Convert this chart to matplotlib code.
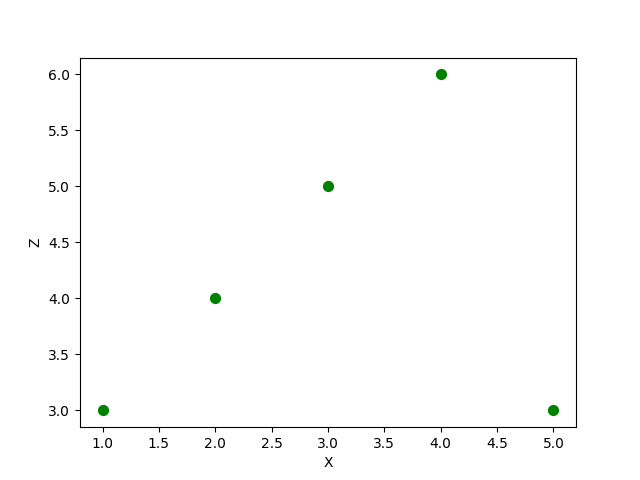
import matplotlib
matplotlib.use("Agg")
import matplotlib.pyplot as plt

x = [1, 2, 3, 4, 5]
z = [3, 4, 5, 6, 3]

fig, ax = plt.subplots(figsize=(6.4, 4.8), dpi=100)
ax.scatter(x, z, color='green', s=50)
ax.set_xlabel('X')
ax.set_ylabel('Z')
fig.savefig('out.png')
